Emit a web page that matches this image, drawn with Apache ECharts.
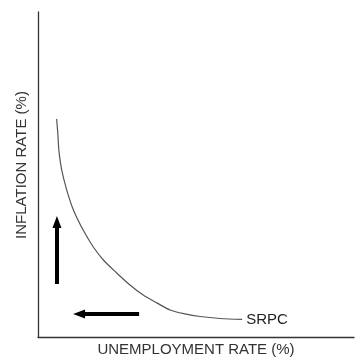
<!DOCTYPE html>
<html>
<head>
<meta charset="utf-8">
<script src="https://cdn.jsdelivr.net/npm/echarts@6/dist/echarts.min.js"></script>
<style>
  html, body { margin: 0; padding: 0; background: #fff; }
  #chart { width: 357px; height: 358px; }
</style>
</head>
<body>
<div id="chart"></div>
<script>
// SRPC curve, in axis units (0-100 on both axes)
const curveX = [5.9, 6.3, 6.6, 7.5, 9.1, 11.2, 14.3, 17.5, 20.7, 24.9, 29.1, 33.3, 37.6, 41.8, 46.5, 51.3, 57.6, 64.6]
const curveY = [67.1, 62.2, 57.5, 51.4, 45.2, 39.1, 32.9, 27.7, 23.7, 19.7, 16.0, 12.9, 10.5, 8.3, 7.1, 6.3, 5.7, 5.4]
// arrows: [fromX, fromY] -> [toX, toY]
const upArrow = [[6.0, 16.3], [6.0, 35.4]]
const leftArrow = [[32.0, 7.1], [13.0, 7.1]]
const curveName = 'SRPC'
const xTitle = 'UNEMPLOYMENT RATE (%)'
const yTitle = 'INFLATION RATE (%)'

const chart = echarts.init(document.getElementById('chart'))

const arrowLine = function (seg) {
  return [{ coord: seg[0] }, { coord: seg[1] }]
}

chart.setOption({
  animation: false,
  grid: { left: 38, top: 12, right: 3, bottom: 21, outerBoundsMode: 'none' },
  xAxis: {
    type: 'value',
    min: 0,
    max: 100,
    name: xTitle,
    nameLocation: 'middle',
    nameGap: 5,
    nameTextStyle: {
      color: '#333',
      fontSize: 15,
      fontFamily: 'Liberation Sans',
      verticalAlign: 'top'
    },
    axisLine: { lineStyle: { color: '#333', width: 1.3 } },
    axisTick: { show: false },
    axisLabel: { show: false },
    splitLine: { show: false }
  },
  yAxis: {
    type: 'value',
    min: 0,
    max: 100,
    axisLine: { show: true, lineStyle: { color: '#333', width: 1.3 } },
    axisTick: { show: false },
    axisLabel: { show: false },
    splitLine: { show: false }
  },
  graphic: [{
    type: 'text',
    x: 22,
    y: 165,
    rotation: Math.PI / 2,
    style: {
      text: yTitle,
      fill: '#333',
      font: '15px "Liberation Sans"',
      align: 'center',
      verticalAlign: 'middle'
    }
  }],
  series: [{
    name: curveName,
    type: 'line',
    smooth: 0.3,
    symbol: 'none',
    data: curveX.map((x, i) => [x, curveY[i]]),
    lineStyle: { color: '#555', width: 1.2 },
    endLabel: {
      show: true,
      formatter: curveName,
      distance: 4,
      color: '#222',
      fontSize: 15,
      fontFamily: 'Liberation Sans'
    },
    markLine: {
      silent: true,
      symbol: ['none', 'triangle'],
      symbolSize: [9, 12],
      label: { show: false },
      lineStyle: { color: '#000', width: 4, type: 'solid' },
      data: [arrowLine(upArrow), arrowLine(leftArrow)]
    }
  }]
})
</script>
</body>
</html>
